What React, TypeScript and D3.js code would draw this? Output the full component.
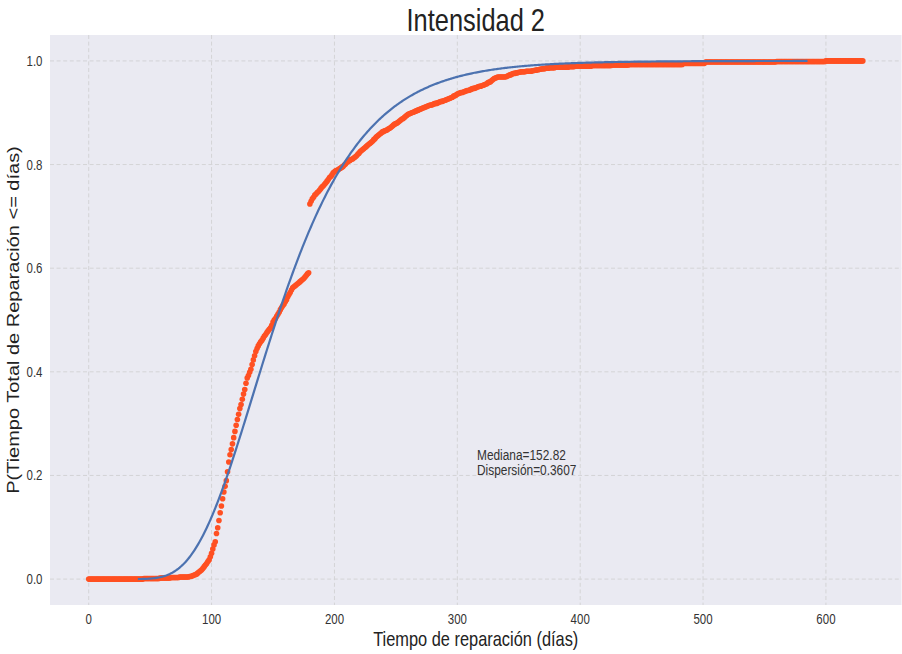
import React from "react";
import * as d3 from "d3";

// Empirical cumulative probability of total repair time, one value per day (0..630)
const cdfByDay: number[] = [
  // 0-99
  0, 0, 0, 0, 0, 0, 0, 0, 0, 0,
  0, 0, 0, 0, 0, 0, 0, 0, 0, 0,
  0, 0, 0, 0, 0, 0, 0, 0, 0, 0,
  0, 0, 0, 0, 0, 0, 0, 0, 0, 0,
  0, 0, 0, 0, 0, 0.001, 0.001, 0.001, 0.001, 0.001,
  0.001, 0.001, 0.001, 0.001, 0.001, 0.001, 0.001, 0.001, 0.002, 0.002,
  0.002, 0.002, 0.002, 0.002, 0.002, 0.002, 0.002, 0.003, 0.003, 0.003,
  0.003, 0.003, 0.003, 0.003, 0.004, 0.004, 0.004, 0.004, 0.004, 0.004,
  0.004, 0.004, 0.005, 0.005, 0.006, 0.007, 0.008, 0.009, 0.010, 0.012,
  0.014, 0.016, 0.018, 0.021, 0.024, 0.027, 0.030, 0.034, 0.037, 0.043,
  // 100-179
  0.050, 0.058, 0.066, 0.072, 0.088, 0.099, 0.113, 0.128, 0.141, 0.155,
  0.168, 0.179, 0.190, 0.207, 0.226, 0.240, 0.250, 0.261, 0.273, 0.285,
  0.297, 0.308, 0.318, 0.329, 0.337, 0.347, 0.357, 0.366, 0.378, 0.388,
  0.393, 0.399, 0.405, 0.414, 0.423, 0.431, 0.439, 0.445, 0.450, 0.454,
  0.458, 0.461, 0.465, 0.469, 0.472, 0.476, 0.479, 0.482, 0.485, 0.490,
  0.496, 0.500, 0.503, 0.507, 0.511, 0.515, 0.520, 0.524, 0.528, 0.531,
  0.535, 0.539, 0.545, 0.549, 0.553, 0.558, 0.562, 0.564, 0.566, 0.568,
  0.570, 0.572, 0.574, 0.576, 0.578, 0.580, 0.583, 0.586, 0.589, 0.591,
  // 180-299
  0.724, 0.729, 0.734, 0.737, 0.741, 0.743, 0.746, 0.748, 0.751, 0.754,
  0.757, 0.759, 0.762, 0.765, 0.768, 0.771, 0.775, 0.777, 0.780, 0.784,
  0.786, 0.788, 0.789, 0.790, 0.792, 0.793, 0.795, 0.796, 0.799, 0.801,
  0.804, 0.806, 0.807, 0.809, 0.810, 0.811, 0.813, 0.815, 0.817, 0.820,
  0.822, 0.825, 0.827, 0.829, 0.831, 0.833, 0.835, 0.837, 0.839, 0.841,
  0.843, 0.845, 0.848, 0.850, 0.853, 0.855, 0.857, 0.859, 0.861, 0.863,
  0.864, 0.865, 0.866, 0.867, 0.869, 0.870, 0.872, 0.874, 0.876, 0.878,
  0.879, 0.880, 0.882, 0.884, 0.886, 0.888, 0.889, 0.891, 0.893, 0.895,
  0.897, 0.898, 0.899, 0.900, 0.901, 0.902, 0.903, 0.904, 0.905, 0.906,
  0.907, 0.908, 0.909, 0.910, 0.911, 0.912, 0.913, 0.914, 0.915, 0.915,
  0.916, 0.917, 0.918, 0.918, 0.919, 0.920, 0.921, 0.922, 0.922, 0.923,
  0.924, 0.925, 0.926, 0.927, 0.928, 0.929, 0.930, 0.932, 0.933, 0.934,
  // 300-399
  0.936, 0.937, 0.938, 0.939, 0.939, 0.940, 0.941, 0.942, 0.943, 0.943,
  0.944, 0.945, 0.946, 0.947, 0.947, 0.948, 0.949, 0.950, 0.951, 0.951,
  0.952, 0.953, 0.954, 0.955, 0.956, 0.958, 0.959, 0.960, 0.962, 0.964,
  0.966, 0.967, 0.968, 0.969, 0.969, 0.969, 0.969, 0.969, 0.969, 0.969,
  0.970, 0.971, 0.972, 0.973, 0.974, 0.975, 0.976, 0.976, 0.977, 0.977,
  0.978, 0.978, 0.979, 0.979, 0.979, 0.979, 0.980, 0.980, 0.980, 0.980,
  0.980, 0.981, 0.981, 0.982, 0.982, 0.983, 0.983, 0.984, 0.984, 0.985,
  0.985, 0.985, 0.986, 0.986, 0.986, 0.987, 0.987, 0.987, 0.987, 0.987,
  0.988, 0.988, 0.988, 0.988, 0.988, 0.988, 0.988, 0.988, 0.988, 0.988,
  0.988, 0.989, 0.989, 0.989, 0.989, 0.989, 0.990, 0.990, 0.990, 0.990,
  // 400-499
  0.990, 0.990, 0.990, 0.990, 0.990, 0.990, 0.990, 0.990, 0.990, 0.990,
  0.991, 0.991, 0.991, 0.991, 0.991, 0.991, 0.991, 0.991, 0.991, 0.991,
  0.991, 0.991, 0.991, 0.991, 0.991, 0.991, 0.992, 0.992, 0.992, 0.992,
  0.992, 0.992, 0.992, 0.992, 0.992, 0.992, 0.992, 0.992, 0.992, 0.992,
  0.993, 0.993, 0.993, 0.993, 0.993, 0.993, 0.993, 0.993, 0.993, 0.993,
  0.993, 0.993, 0.993, 0.993, 0.993, 0.993, 0.993, 0.993, 0.993, 0.993,
  0.993, 0.993, 0.993, 0.993, 0.993, 0.993, 0.993, 0.993, 0.993, 0.993,
  0.993, 0.993, 0.993, 0.993, 0.993, 0.993, 0.993, 0.993, 0.993, 0.993,
  0.993, 0.993, 0.993, 0.993, 0.995, 0.995, 0.995, 0.995, 0.995, 0.995,
  0.995, 0.995, 0.995, 0.995, 0.995, 0.995, 0.995, 0.995, 0.995, 0.995,
  // 500-599
  0.995, 0.995, 0.998, 0.998, 0.998, 0.998, 0.998, 0.998, 0.998, 0.998,
  0.998, 0.998, 0.998, 0.998, 0.998, 0.998, 0.998, 0.998, 0.998, 0.998,
  0.998, 0.998, 0.998, 0.998, 0.998, 0.998, 0.998, 0.998, 0.998, 0.998,
  0.998, 0.998, 0.998, 0.998, 0.998, 0.998, 0.998, 0.998, 0.998, 0.998,
  0.998, 0.998, 0.998, 0.998, 0.998, 0.998, 0.998, 0.998, 0.998, 0.998,
  0.998, 0.998, 0.998, 0.998, 0.998, 0.998, 0.998, 0.998, 0.998, 0.998,
  0.999, 0.999, 0.999, 0.999, 0.999, 0.999, 0.999, 0.999, 0.999, 0.999,
  0.999, 0.999, 0.999, 0.999, 0.999, 0.999, 0.999, 0.999, 0.999, 0.999,
  0.999, 0.999, 0.999, 0.999, 0.999, 0.999, 0.999, 0.999, 0.999, 0.999,
  0.999, 0.999, 0.999, 0.999, 0.999, 0.999, 0.999, 0.999, 0.999, 0.999,
  // 600-630
  1, 1, 1, 1, 1, 1, 1, 1, 1, 1,
  1, 1, 1, 1, 1, 1, 1, 1, 1, 1,
  1, 1, 1, 1, 1, 1, 1, 1, 1, 1,
  1,
];

// Fitted lognormal parameters
const median = 152.82;
const dispersion = 0.3607;
const fitRange: [number, number] = [40, 585];

const xTicks = [0, 100, 200, 300, 400, 500, 600];
const yTicks = [0.0, 0.2, 0.4, 0.6, 0.8, 1.0];

const title = "Intensidad 2";
const xLabel = "Tiempo de reparación (días)";
const yLabel = "P(Tiempo Total de Reparación <= días)";

const W = 902;
const H = 654;
const plot = { left: 50, right: 901.5, top: 35, bottom: 605 };
const squeeze = 0.82;
const font = "'Liberation Sans', Arial, sans-serif";
const textColor = "#333333";

// Abramowitz & Stegun 7.1.26 approximation of erf
function erf(v: number): number {
  const s = v < 0 ? -1 : 1;
  const a = Math.abs(v);
  const t = 1 / (1 + 0.3275911 * a);
  const y =
    1 -
    ((((1.061405429 * t - 1.453152027) * t + 1.421413741) * t - 0.284496736) * t +
      0.254829592) *
      t *
      Math.exp(-a * a);
  return s * y;
}

function lognormalCdf(t: number): number {
  if (t <= 0) return 0;
  const z = Math.log(t / median) / dispersion;
  return 0.5 * (1 + erf(z / Math.SQRT2));
}

export default function App() {
  const x = d3.scaleLinear().domain([-31.5, 661.5]).range([plot.left, plot.right]);
  const y = d3.scaleLinear().domain([-0.05, 1.05]).range([plot.bottom, plot.top]);

  const empirical = cdfByDay.map((p, day) => ({ day, p }));

  const fitX = d3.range(fitRange[0], fitRange[1] + 0.001, 1);
  const fitLine = d3
    .line<number>()
    .x((d) => x(d))
    .y((d) => y(lognormalCdf(d)))(fitX);

  const cx = (plot.left + plot.right) / 2;
  const cy = (plot.top + plot.bottom) / 2;

  return (
    <svg
      width={W}
      height={H}
      viewBox={`0 0 ${W} ${H}`}
      style={{ position: "fixed", left: 0, top: 0, background: "#ffffff" }}
    >
      <rect
        x={plot.left}
        y={plot.top}
        width={plot.right - plot.left}
        height={plot.bottom - plot.top}
        fill="#EAEAF2"
      />
      <g stroke="#d4d4d6" strokeWidth={1} strokeDasharray="4,2.6">
        {xTicks.map((t) => (
          <line key={`gx${t}`} x1={x(t)} x2={x(t)} y1={plot.top} y2={plot.bottom} />
        ))}
        {yTicks.map((t) => (
          <line key={`gy${t}`} x1={plot.left} x2={plot.right} y1={y(t)} y2={y(t)} />
        ))}
      </g>

      <g fill="#FF5022">
        {empirical.map((d) => (
          <circle key={d.day} cx={x(d.day)} cy={y(d.p)} r={2.8} />
        ))}
      </g>

      <path d={fitLine ?? ""} fill="none" stroke="#4C72B0" strokeWidth={2.2} />

      <g fontFamily={font} fill={textColor} fontSize={14}>
        {xTicks.map((t) => (
          <text
            key={`tx${t}`}
            transform={`translate(${x(t)},624) scale(${squeeze},1)`}
            textAnchor="middle"
          >
            {d3.format("d")(t)}
          </text>
        ))}
        {yTicks.map((t) => (
          <text
            key={`ty${t}`}
            transform={`translate(42.5,${y(t) + 5}) scale(${squeeze},1)`}
            textAnchor="end"
          >
            {d3.format(".1f")(t)}
          </text>
        ))}
      </g>

      <text
        transform={`translate(${cx},31) scale(${squeeze},1)`}
        textAnchor="middle"
        fontFamily={font}
        fontSize={31}
        fill="#222222"
      >
        {title}
      </text>

      <text
        transform={`translate(${cx},646) scale(${squeeze},1)`}
        textAnchor="middle"
        fontFamily={font}
        fontSize={20}
        fill="#222222"
      >
        {xLabel}
      </text>

      <text
        transform={`translate(19,${cy}) scale(${squeeze},1) rotate(-90)`}
        textAnchor="middle"
        fontFamily={font}
        fontSize={20}
        fill="#222222"
      >
        {yLabel}
      </text>

      <g fontFamily={font} fontSize={14.5} fill={textColor}>
        <text transform={`translate(477,459.5) scale(${squeeze},1)`}>
          {`Mediana=${median.toFixed(2)}`}
        </text>
        <text transform={`translate(477,474.5) scale(${squeeze},1)`}>
          {`Dispersión=${dispersion.toFixed(4)}`}
        </text>
      </g>
    </svg>
  );
}
